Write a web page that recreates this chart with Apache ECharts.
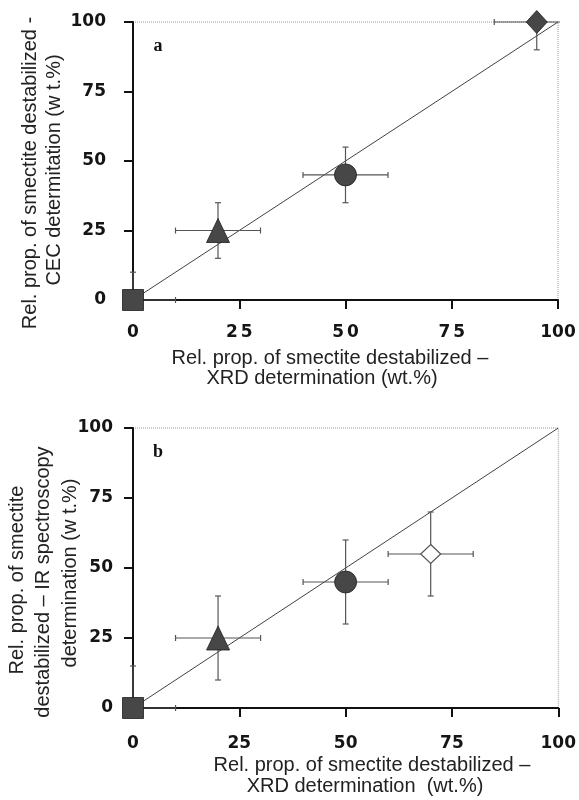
<!DOCTYPE html>
<html><head><meta charset="utf-8">
<script src="https://cdn.jsdelivr.net/npm/echarts@6/dist/echarts.min.js"></script>
<style>html,body{margin:0;padding:0;background:#fff}#c{width:579px;height:800px}</style>
</head><body><div id="c"></div>
<script>
// ---- data ----
const markerNames = ['square', 'triangle', 'circle', 'diamond'];
const xA = [0, 20, 50, 95];
const yA = [0, 25, 45, 100];
const xErrA = [10, 10, 10, 10];
const yErrA = [10, 10, 10, 10];
const xB = [0, 20, 50, 70];
const yB = [0, 25, 45, 55];
const xErrB = [10, 10, 10, 10];
const yErrB = [15, 15, 15, 15];
const diag = [[0, 0], [100, 100]];

const FONT = '"Liberation Sans", Arial, sans-serif';
const TICKFONT = '"DejaVu Sans", "Liberation Sans", sans-serif';
const chart = echarts.init(document.getElementById('c'), null, { renderer: 'canvas' });

function axisX(gi, margin, spaced) {
  return {
    type: 'value', gridIndex: gi, min: 0, max: 100, interval: 25,
    axisLine: { show: true, onZero: false, lineStyle: { color: '#111', width: 2 } },
    axisTick: { show: true, inside: false, length: 9, lineStyle: { color: '#111', width: 2 } },
    axisLabel: {
      margin: margin, color: '#151515', fontSize: 17, fontWeight: 'bold', fontFamily: TICKFONT,
      formatter: v => (spaced && v > 0 && v < 100) ? String(v).split('').join('\u2006') : String(v)
    },
    splitLine: { show: false }
  };
}
function axisY(gi, margin) {
  return {
    type: 'value', gridIndex: gi, min: 0, max: 100, interval: 25,
    axisLine: { show: true, onZero: false, lineStyle: { color: '#111', width: 2 } },
    axisTick: { show: true, inside: false, length: 9, lineStyle: { color: '#111', width: 2 } },
    axisLabel: { margin: margin, color: '#151515', fontSize: 17, fontWeight: 'bold', fontFamily: TICKFONT },
    splitLine: { show: false }
  };
}

function errSeries(gi, xs, ys, xe, ye) {
  const data = xs.map((x, i) => [x, ys[i], xe[i], ye[i]]);
  return {
    type: 'custom', xAxisIndex: gi, yAxisIndex: gi, z: 3, silent: true,
    data: data,
    renderItem: function (params, api) {
      const x = api.value(0), y = api.value(1), dx = api.value(2), dy = api.value(3);
      const cl = v => Math.max(0, Math.min(100, v));
      const children = [];
      const style = { stroke: '#555', lineWidth: 1.2 };
      const cap = 3;
      const x0 = cl(x - dx), x1 = cl(x + dx), y0 = cl(y - dy), y1 = cl(y + dy);
      const pL = api.coord([x0, y]), pR = api.coord([x1, y]);
      const pD = api.coord([x, y0]), pU = api.coord([x, y1]);
      children.push({ type: 'line', shape: { x1: pL[0], y1: pL[1], x2: (x + dx > 100) ? pR[0] + 2 : pR[0], y2: pR[1] }, style: style });
      children.push({ type: 'line', shape: { x1: pD[0], y1: pD[1], x2: pU[0], y2: pU[1] }, style: style });
      if (x - dx >= 0) children.push({ type: 'line', shape: { x1: pL[0], y1: pL[1] - cap, x2: pL[0], y2: pL[1] + cap }, style: style });
      if (x + dx <= 100) children.push({ type: 'line', shape: { x1: pR[0], y1: pR[1] - cap, x2: pR[0], y2: pR[1] + cap }, style: style });
      if (y - dy >= 0) children.push({ type: 'line', shape: { x1: pD[0] - cap, y1: pD[1], x2: pD[0] + cap, y2: pD[1] }, style: style });
      if (y + dy <= 100) children.push({ type: 'line', shape: { x1: pU[0] - cap, y1: pU[1], x2: pU[0] + cap, y2: pU[1] }, style: style });
      return { type: 'group', children: children };
    }
  };
}

const symbolDefs = {
  square: { symbol: 'rect', size: [21, 21] },
  triangle: { symbol: 'triangle', size: [23, 24] },
  circle: { symbol: 'circle', size: [22, 22] },
  diamond: { symbol: 'diamond', size: [21, 23] }
};

function markerSeries(gi, xs, ys, openIdx) {
  return xs.map((x, i) => {
    const d = symbolDefs[markerNames[i]];
    const open = openIdx === i;
    return {
      type: 'scatter', name: markerNames[i], xAxisIndex: gi, yAxisIndex: gi, z: 5, clip: false,
      symbol: d.symbol, symbolSize: open ? [20, 19] : d.size,
      itemStyle: open ? { color: '#fff', borderColor: '#555', borderWidth: 1.2, opacity: 1 }
                      : { color: '#474747', borderColor: '#1e1e1e', borderWidth: 0.8, opacity: 1 },
      data: [[x, ys[i]]]
    };
  });
}

function diagSeries(gi) {
  return {
    type: 'line', xAxisIndex: gi, yAxisIndex: gi, z: 2, data: diag, symbol: 'none',
    lineStyle: { color: '#111', width: 0.8 }, silent: true
  };
}

const TF = '20px ' + FONT;
function t(x, y, text, rot) {
  const o = { type: 'text', x: x, y: y, style: { text: text, font: TF, fill: '#222', textAlign: 'center', textVerticalAlign: 'middle' } };
  if (rot) o.rotation = Math.PI / 2;
  return o;
}

const option = {
  animation: false,
  backgroundColor: '#fff',
  grid: [
    { left: 133, top: 22, width: 425, height: 278, show: true, borderColor: '#999', borderWidth: 1, borderType: 'dotted' },
    { left: 133, top: 428, width: 427, height: 280, show: true, borderColor: '#999', borderWidth: 1, borderType: 'dotted' }
  ],
  xAxis: [axisX(0, 24, true), axisX(1, 27, false)],
  yAxis: [axisY(0, 27), axisY(1, 20)],
  series: [
    diagSeries(0), errSeries(0, xA, yA, xErrA, yErrA), ...markerSeries(0, xA, yA, -1),
    diagSeries(1), errSeries(1, xB, yB, xErrB, yErrB), ...markerSeries(1, xB, yB, 3)
  ],
  graphic: [
    { type: 'text', x: 158, y: 46, style: { text: 'a', font: 'bold 18px "Liberation Serif", serif', fill: '#111', textAlign: 'center', textVerticalAlign: 'middle' } },
    { type: 'text', x: 158, y: 452, style: { text: 'b', font: 'bold 18px "Liberation Serif", serif', fill: '#111', textAlign: 'center', textVerticalAlign: 'middle' } },
    t(30, 173, 'Rel. prop. of smectite destabilized -', true),
    t(54, 170, 'CEC determitation (w t.%)', true),
    t(330, 358, 'Rel. prop. of smectite destabilized –'),
    t(322, 378, 'XRD determination (wt.%)'),
    t(17, 580, 'Rel. prop. of smectite', true),
    t(43, 582, 'destabilized – IR spectroscopy', true),
    t(70, 573, 'determination (w t.%)', true),
    t(372, 765, 'Rel. prop. of smectite destabilized –'),
    t(365, 786, 'XRD determination  (wt.%)')
  ]
};
chart.setOption(option);
</script></body></html>
